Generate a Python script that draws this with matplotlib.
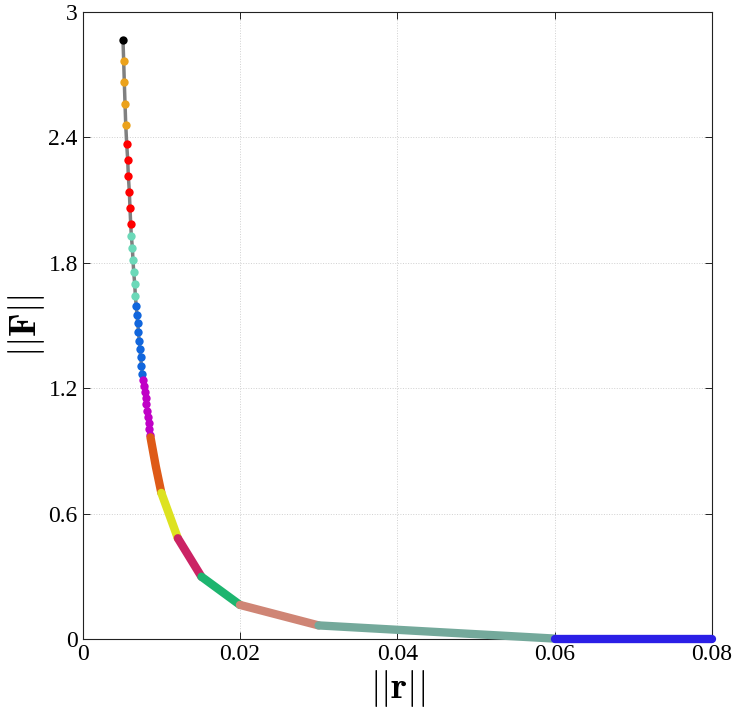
import matplotlib
matplotlib.use('Agg')
import matplotlib.pyplot as plt

plt.rcParams['font.family'] = ['Liberation Serif', 'DejaVu Serif']
plt.rcParams['mathtext.fontset'] = 'cm'

# discrete points (top of the curve)
r_black = [0.00512]
F_black = [2.867]
r_orange = [0.00521, 0.00529, 0.00538, 0.00547]
F_orange = [2.764, 2.663, 2.561, 2.461]
r_red = [0.00559, 0.00572, 0.00580, 0.00593, 0.00601, 0.00610]
F_red = [2.370, 2.293, 2.216, 2.140, 2.063, 1.987]
r_aqua = [0.00618, 0.00631, 0.00639, 0.00648, 0.00661, 0.00669]
F_aqua = [1.930, 1.873, 1.815, 1.758, 1.700, 1.643]
r_blue = [0.00681, 0.00690, 0.00699, 0.00709, 0.00718, 0.00728, 0.00737, 0.00747, 0.00758]
F_blue = [1.591, 1.551, 1.513, 1.470, 1.428, 1.388, 1.347, 1.307, 1.267]
r_mag = [0.00770, 0.00780, 0.00791, 0.00800, 0.00810, 0.00820, 0.00830, 0.00839, 0.00849, 0.00859]
F_mag = [1.240, 1.211, 1.182, 1.154, 1.125, 1.091, 1.063, 1.034, 1.005, 0.977]

# dense segments (drawn as thick lines)
r_dorange = [0.00862, 0.0093, 0.0100]
F_dorange = [0.965, 0.825, 0.699]
r_yellow = [0.0100, 0.0121]
F_yellow = [0.699, 0.482]
r_crimson = [0.0121, 0.0151]
F_crimson = [0.482, 0.298]
r_green = [0.0151, 0.0200]
F_green = [0.298, 0.163]
r_salmon = [0.0200, 0.0300]
F_salmon = [0.163, 0.065]
r_greyteal = [0.0300, 0.0600]
F_greyteal = [0.065, 0.002]
r_blue2 = [0.0600, 0.0800]
F_blue2 = [0.0, 0.0]

xticks = [0, 0.02, 0.04, 0.06, 0.08]
xticklabels = ['0', '0.02', '0.04', '0.06', '0.08']
yticks = [0, 0.6, 1.2, 1.8, 2.4, 3]
yticklabels = ['0', '0.6', '1.2', '1.8', '2.4', '3']

fig = plt.figure(figsize=(7.34, 7.17), dpi=100)
ax = fig.add_axes([0.1127, 0.1088, 0.857, 0.8745])

# grey connecting line
r_all = r_black + r_orange + r_red + r_aqua + r_blue + r_mag + r_dorange
F_all = F_black + F_orange + F_red + F_aqua + F_blue + F_mag + F_dorange
ax.plot(r_all, F_all, color='#808080', lw=2.5, zorder=2)

dots = [(r_black, F_black, '#000000'),
        (r_orange, F_orange, '#EBA21C'),
        (r_red, F_red, '#FF0000'),
        (r_aqua, F_aqua, '#6CD9B9'),
        (r_blue, F_blue, '#1166DD'),
        (r_mag, F_mag, '#C000C6')]
for r, F, c in dots:
    ax.plot(r, F, 'o', color=c, ms=6, mec='none', zorder=3)

segs = [(r_dorange, F_dorange, '#DE5A17'),
        (r_yellow, F_yellow, '#DDE220'),
        (r_crimson, F_crimson, '#CB2364'),
        (r_green, F_green, '#1DB56F'),
        (r_salmon, F_salmon, '#CF8575'),
        (r_greyteal, F_greyteal, '#74A99B'),
        (r_blue2, F_blue2, '#2B1FE6')]
for r, F, c in segs:
    ax.plot(r, F, '-', color=c, lw=6, solid_capstyle='round', zorder=3, clip_on=False)

ax.set_xlim(0, 0.08)
ax.set_ylim(0, 3)
ax.set_xticks(xticks)
ax.set_xticklabels(xticklabels)
ax.set_yticks(yticks)
ax.set_yticklabels(yticklabels)
ax.tick_params(direction='in', top=True, right=True, labelsize=17, length=5, width=0.6)
ax.grid(True, linestyle=':', color='#d0d0d0', lw=0.7)
for s in ax.spines.values():
    s.set_linewidth(0.8)
    s.set_color('#222222')

ax.set_xlabel(r'$||\mathbf{r}||$', fontsize=27, labelpad=2)
ax.set_ylabel(r'$||\mathbf{F}||$', fontsize=27, labelpad=1)

fig.savefig('out.png', dpi=100)
